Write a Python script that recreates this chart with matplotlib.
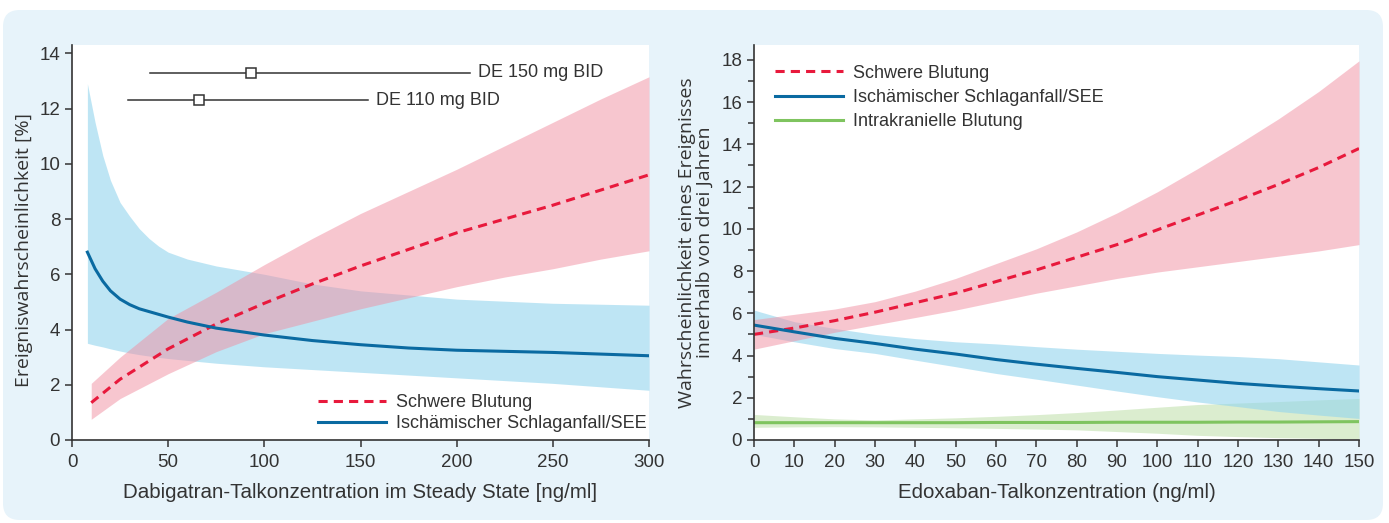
import numpy as np
import matplotlib
matplotlib.use("Agg")
from matplotlib import pyplot as plt
from matplotlib.patches import FancyBboxPatch
from matplotlib.ticker import MultipleLocator

# --- Dabigatran (links) ---
dab_x_red = [10, 25, 50, 75, 100, 125, 150, 175, 200, 225, 250, 275, 300]
dab_red = [1.35, 2.2, 3.3, 4.2, 4.95, 5.65, 6.3, 6.9, 7.5, 8.0, 8.5, 9.05, 9.6]
dab_red_lo = [0.75, 1.5, 2.4, 3.2, 3.85, 4.3, 4.75, 5.15, 5.55, 5.9, 6.2, 6.55, 6.85]
dab_red_hi = [2.05, 3.0, 4.4, 5.35, 6.35, 7.3, 8.2, 9.0, 9.8, 10.65, 11.5, 12.35, 13.15]

dab_x_blue = [8, 12, 16, 20, 25, 30, 35, 40, 45, 50, 60, 75, 100, 125, 150, 175, 200, 250, 300]
dab_blue = [6.8, 6.2, 5.75, 5.4, 5.1, 4.9, 4.75, 4.65, 4.55, 4.45, 4.27, 4.05, 3.8, 3.6, 3.45,
            3.33, 3.25, 3.17, 3.05]
dab_blue_hi = [12.9, 11.5, 10.3, 9.4, 8.6, 8.1, 7.65, 7.3, 7.02, 6.8, 6.55, 6.3, 6.0, 5.65, 5.4,
               5.25, 5.1, 4.95, 4.88]
dab_blue_lo = [3.5, 3.43, 3.37, 3.3, 3.22, 3.15, 3.09, 3.04, 2.99, 2.95, 2.88, 2.78, 2.65, 2.55,
               2.45, 2.35, 2.25, 2.05, 1.8]

# Dosis-Balken: (min, median, max, y)
de150 = (40.5, 93, 207, 13.3)
de110 = (29, 66, 154, 12.3)

# --- Edoxaban (rechts) ---
edo_x = [0, 10, 20, 30, 40, 50, 60, 70, 80, 90, 100, 110, 120, 130, 140, 150]
edo_red = [5.0, 5.3, 5.65, 6.05, 6.5, 6.95, 7.5, 8.05, 8.65, 9.25, 9.95, 10.65, 11.35, 12.1, 12.9, 13.8]
edo_red_hi = [5.7, 5.95, 6.2, 6.55, 7.05, 7.65, 8.35, 9.05, 9.85, 10.75, 11.75, 12.85, 14.0, 15.2, 16.5, 17.95]
edo_red_lo = [4.3, 4.7, 5.1, 5.45, 5.8, 6.15, 6.55, 6.95, 7.3, 7.65, 7.95, 8.2, 8.45, 8.7, 8.95, 9.25]
edo_blue = [5.44, 5.12, 4.81, 4.57, 4.3, 4.07, 3.81, 3.59, 3.39, 3.2, 3.0, 2.84, 2.68, 2.55, 2.43, 2.32]
edo_blue_hi = [6.15, 5.6, 5.28, 5.0, 4.8, 4.65, 4.55, 4.42, 4.3, 4.2, 4.1, 4.02, 3.95, 3.85, 3.7, 3.55]
edo_blue_lo = [5.0, 4.65, 4.33, 4.1, 3.78, 3.47, 3.15, 2.88, 2.6, 2.32, 2.05, 1.8, 1.58, 1.35, 1.18, 1.02]
edo_green = [0.82, 0.82, 0.82, 0.82, 0.82, 0.82, 0.83, 0.83, 0.83, 0.84, 0.84, 0.84, 0.85, 0.85, 0.86, 0.87]
edo_green_hi = [1.21, 1.1, 1.0, 0.95, 1.0, 1.05, 1.12, 1.2, 1.3, 1.42, 1.55, 1.68, 1.75, 1.82, 1.9, 1.97]
edo_green_lo = [0.6, 0.62, 0.63, 0.62, 0.6, 0.58, 0.55, 0.52, 0.48, 0.4, 0.32, 0.22, 0.16, 0.11, 0.08, 0.05]

RED = "#e8193c"
BLUE = "#0a6aa1"
GREEN = "#7fc45f"
BG = "#e7f3fa"
DARK = "#333333"
TXT = ["Liberation Sans", "DejaVu Sans"]
WIDE = ["Open Sans", "DejaVu Sans"]

fig = plt.figure(figsize=(13.89, 5.23), dpi=100, facecolor="white")
fig.patches.append(FancyBboxPatch((3 / 1389, 3 / 523), 1380 / 1389, 510 / 523,
                                  boxstyle="round,pad=0,rounding_size=0.012",
                                  transform=fig.transFigure, facecolor=BG,
                                  edgecolor="none", zorder=-10, mutation_aspect=1389 / 523))


def style(ax):
    ax.set_facecolor("white")
    for s in ["top", "right"]:
        ax.spines[s].set_visible(False)
    for s in ["left", "bottom"]:
        ax.spines[s].set_color(DARK)
        ax.spines[s].set_linewidth(1.2)
    ax.tick_params(which="both", direction="out", color=DARK, width=1.1, labelcolor=DARK,
                   labelsize=13.5)
    ax.tick_params(which="major", length=5)
    ax.tick_params(which="minor", length=4)
    ax.tick_params(axis="x", pad=5)
    for lab in ax.get_xticklabels() + ax.get_yticklabels():
        lab.set_family(TXT)


# ---------- links ----------
ax1 = fig.add_axes([72 / 1389, 83 / 523, 577 / 1389, 395 / 523])
ax1.fill_between(dab_x_blue, dab_blue_lo, dab_blue_hi, color="#93d5ee", alpha=0.6, lw=0)
ax1.fill_between(dab_x_red, dab_red_lo, dab_red_hi, color="#f18ea1", alpha=0.5, lw=0)
ax1.plot(dab_x_red, dab_red, color=RED, lw=2.2, ls=(0, (3, 2)), label="Schwere Blutung")
ax1.plot(dab_x_blue, dab_blue, color=BLUE, lw=2.2, label="Ischämischer Schlaganfall/SEE")
for lo, med, hi, yy in [de150, de110]:
    ax1.plot([lo, hi], [yy, yy], color=DARK, lw=1.1)
    ax1.plot([med], [yy], marker="s", ms=7, mfc="white", mec=DARK, mew=1.1)
ax1.text(de150[2] + 4, de150[3], "DE 150 mg BID", va="center", ha="left",
         color=DARK, fontsize=13, family=TXT)
ax1.text(de110[2] + 4, de110[3], "DE 110 mg BID", va="center", ha="left",
         color=DARK, fontsize=13, family=TXT)
ax1.set_xlim(0, 300)
ax1.set_ylim(0, 14.3)
ax1.set_xticks(np.arange(0, 301, 50))
ax1.set_yticks(np.arange(0, 15, 2))
style(ax1)
ax1.set_xlabel("Dabigatran-Talkonzentration im Steady State [ng/ml]",
               fontsize=14.8, family=TXT, color=DARK, labelpad=9)
ax1.set_ylabel("Ereigniswahrscheinlichkeit [%]", fontsize=14, family=WIDE, color=DARK)
ax1.yaxis.set_label_coords(-0.068, 0.48)
leg1 = ax1.legend(loc="lower left", bbox_to_anchor=(0.426, 0.02), frameon=False,
                  borderpad=0, borderaxespad=0, handlelength=3.8, handletextpad=0.55,
                  labelspacing=0.22, prop={"family": TXT, "size": 13})

# ---------- rechts ----------
ax2 = fig.add_axes([754 / 1389, 83 / 523, 605 / 1389, 395 / 523])
ax2.fill_between(edo_x, edo_green_lo, edo_green_hi, color="#c3e2b0", alpha=0.6, lw=0)
ax2.fill_between(edo_x, edo_blue_lo, edo_blue_hi, color="#93d5ee", alpha=0.6, lw=0)
ax2.fill_between(edo_x, edo_red_lo, edo_red_hi, color="#f18ea1", alpha=0.5, lw=0)
ax2.plot(edo_x, edo_red, color=RED, lw=2.2, ls=(0, (3, 2)), label="Schwere Blutung")
ax2.plot(edo_x, edo_blue, color=BLUE, lw=2.2, label="Ischämischer Schlaganfall/SEE")
ax2.plot(edo_x, edo_green, color=GREEN, lw=2.2, label="Intrakranielle Blutung")
ax2.set_xlim(0, 150)
ax2.set_ylim(0, 18.7)
ax2.set_xticks(np.arange(0, 151, 10))
ax2.set_yticks(np.arange(0, 19, 2))
ax2.yaxis.set_minor_locator(MultipleLocator(1))
style(ax2)
ax2.set_xlabel("Edoxaban-Talkonzentration (ng/ml)", fontsize=14.8, family=TXT,
               color=DARK, labelpad=9)
ax2.set_ylabel("Wahrscheinlichkeit eines Ereignisses\ninnerhalb von drei Jahren",
               fontsize=14, family=WIDE, color=DARK, linespacing=1.02)
ax2.yaxis.set_label_coords(-0.066, 0.5)
leg2 = ax2.legend(loc="upper left", bbox_to_anchor=(0.034, 0.95), frameon=False,
                  borderpad=0, borderaxespad=0, handlelength=3.8, handletextpad=0.55,
                  labelspacing=0.4, prop={"family": TXT, "size": 13})
for leg in (leg1, leg2):
    for t in leg.get_texts():
        t.set_color(DARK)

fig.savefig("out.png", dpi=100, facecolor="white")
